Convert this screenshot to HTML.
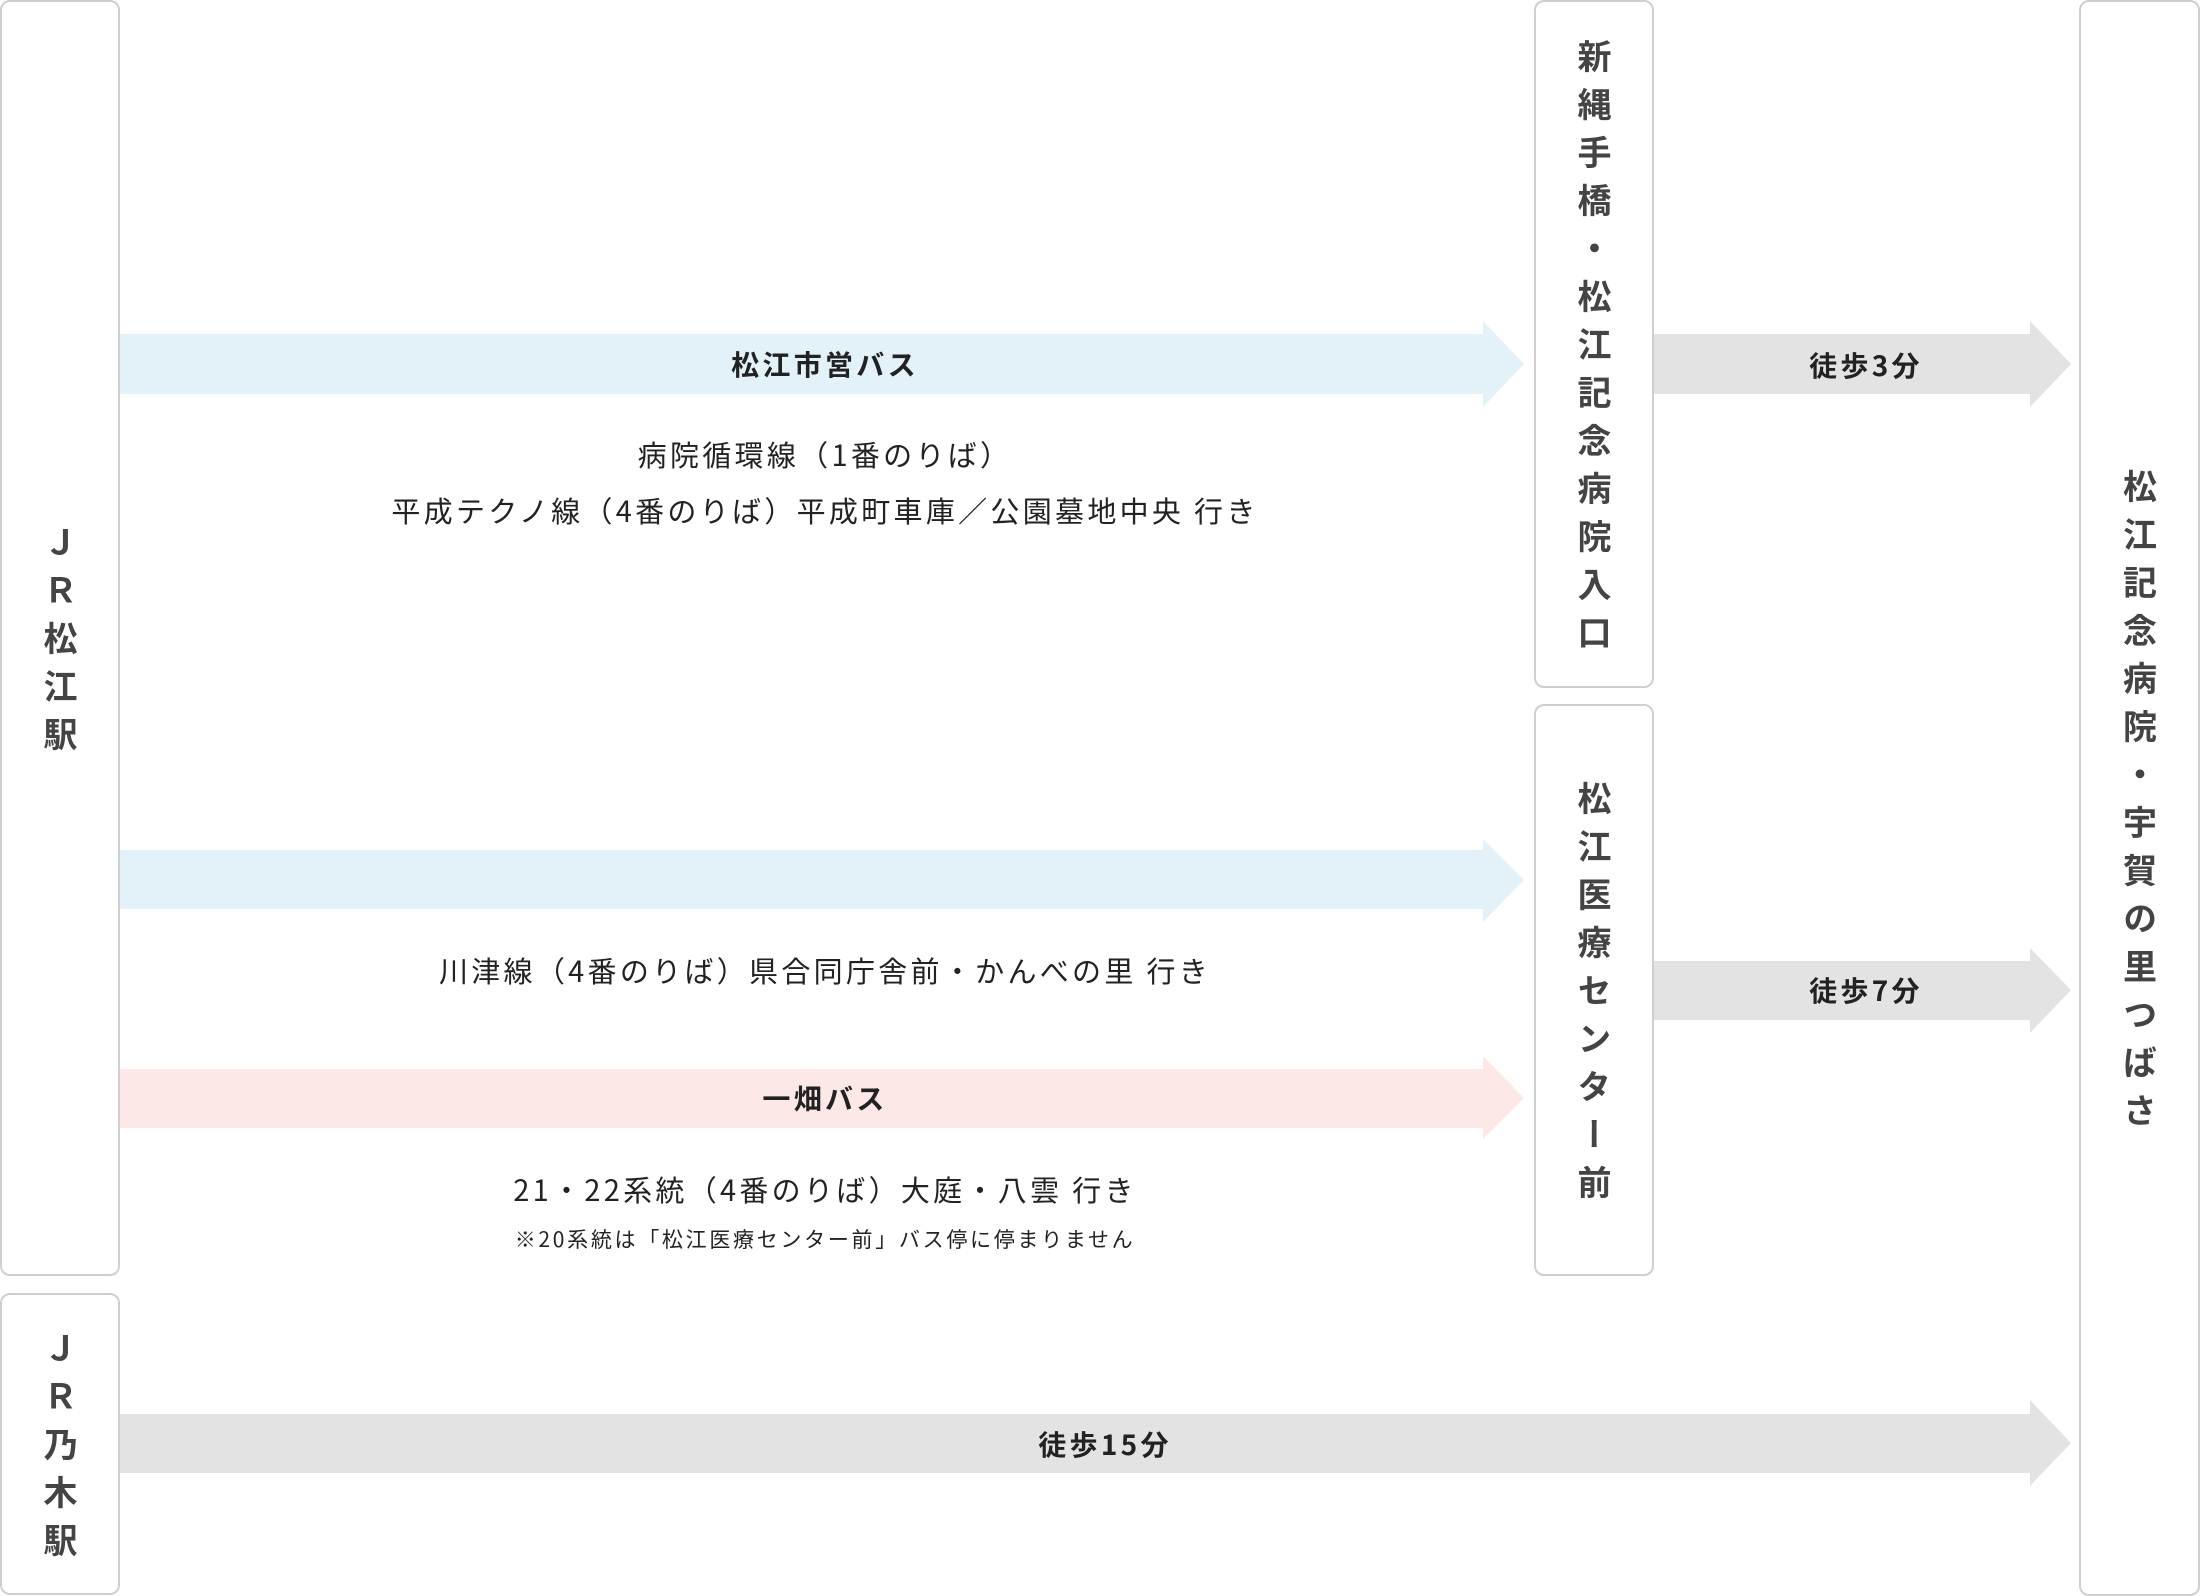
<!DOCTYPE html>
<html><head><meta charset="utf-8"><style>
body{margin:0;width:2200px;height:1596px;background:#fff;position:relative;overflow:hidden;font-family:"Noto Sans CJK JP","Liberation Sans",sans-serif;color:#222}
.box{position:absolute;border:2px solid #cfcfcf;border-radius:10px;box-sizing:border-box;display:flex;align-items:center;justify-content:center}
.v{writing-mode:vertical-rl;text-orientation:upright;font-size:34px;font-weight:bold;color:#444;letter-spacing:14px;line-height:1;padding-top:14px}
.t{position:absolute;white-space:nowrap;transform:translate(-50%,-50%);font-size:29px;color:#222;letter-spacing:3.3px}
.b{font-weight:bold;font-size:28px;letter-spacing:3.3px}
svg{position:absolute;left:0;top:0}
</style></head><body>
<svg width="2200" height="1596">
<polygon points="119,334 1483,334 1483,321 1524,364 1483,407 1483,394 119,394" fill="#e3f2f9"/>
<polygon points="119,850 1483,850 1483,839 1524,880 1483,922 1483,909 119,909" fill="#e3f2f9"/>
<polygon points="119,1069 1483,1069 1483,1056 1524,1098 1483,1139 1483,1128 119,1128" fill="#fde8e8"/>
<polygon points="1653,334 2030,334 2030,321 2071,364 2030,407 2030,394 1653,394" fill="#e3e3e3"/>
<polygon points="1653,961 2030,961 2030,948 2071,990 2030,1033 2030,1020 1653,1020" fill="#e3e3e3"/>
<polygon points="119,1414 2030,1414 2030,1400 2071,1443 2030,1486 2030,1473 119,1473" fill="#e3e3e3"/>
</svg>
<div class="box" style="left:0;top:0;width:120px;height:1276px"><span class="v">ＪＲ松江駅</span></div>
<div class="box" style="left:0;top:1293px;width:120px;height:302px"><span class="v">ＪＲ乃木駅</span></div>
<div class="box" style="left:1534px;top:0;width:120px;height:688px"><span class="v">新縄手橋・松江記念病院入口</span></div>
<div class="box" style="left:1534px;top:704px;width:120px;height:572px"><span class="v">松江医療センター前</span></div>
<div class="box" style="left:2079px;top:0;width:121px;height:1596px"><span class="v">松江記念病院・宇賀の里つばさ</span></div>
<div class="t b" style="left:825px;top:364px">松江市営バス</div>
<div class="t" style="left:825px;top:454px">病院循環線（1番のりば）</div>
<div class="t" style="left:825px;top:510px">平成テクノ線（4番のりば）平成町車庫／公園墓地中央 行き</div>
<div class="t" style="left:825px;top:970px">川津線（4番のりば）県合同庁舎前・かんべの里 行き</div>
<div class="t b" style="left:825px;top:1098px">一畑バス</div>
<div class="t" style="left:825px;top:1189px">21・22系統（4番のりば）大庭・八雲 行き</div>
<div class="t" style="left:825px;top:1239px;font-size:21px;letter-spacing:2.7px">※20系統は「松江医療センター前」バス停に停まりません</div>
<div class="t b" style="left:1866px;top:365px">徒歩3分</div>
<div class="t b" style="left:1866px;top:990px">徒歩7分</div>
<div class="t b" style="left:1105px;top:1444px">徒歩15分</div>
</body></html>
